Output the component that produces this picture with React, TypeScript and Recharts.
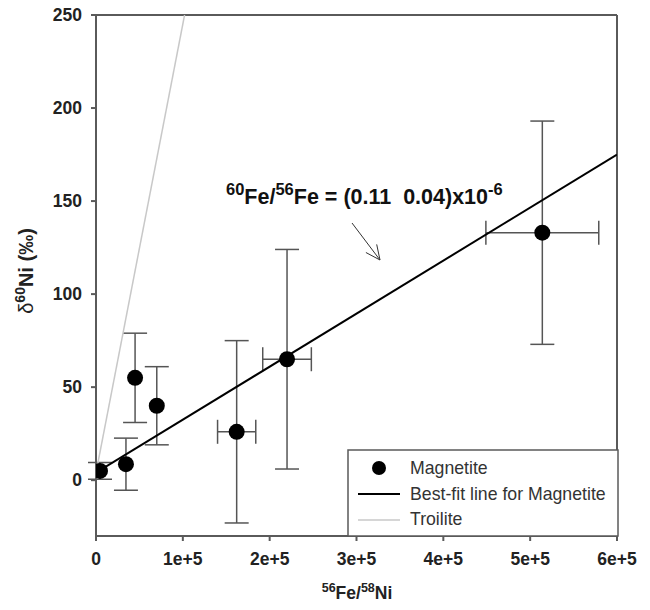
import React from "react";
import { ScatterChart, Scatter, XAxis, YAxis, ErrorBar, ReferenceLine } from "recharts";

// magnetite measurements
const magX = [4.6e3, 3.45e4, 4.5e4, 7.0e4, 1.62e5, 2.2e5, 5.14e5];
const magY = [5, 8.6, 55, 40, 26, 65, 133];
const magErrX = [0, 0, 0, 0, 2.2e4, 2.8e4, 6.5e4];
const magErrY = [4.5, 14, 24, 21, 49, 59, 60];

// best-fit line & troilite line (end points)
const fitX = [0, 6e5];
const fitY = [4, 175];
const troiliteX = [0, 1.02e5];
const troiliteY = [4, 250];

const xTicks = [0, 1e5, 2e5, 3e5, 4e5, 5e5, 6e5];
const yTicks = [0, 50, 100, 150, 200, 250];

const magnetite = magX.map((x, i) => ({ x, y: magY[i], ex: magErrX[i], ey: magErrY[i] }));
// only the points that actually carry a horizontal error
const magnetiteXErr = magnetite.filter((d) => d.ex > 0);
const bestFit = fitX.map((x, i) => ({ x, y: fitY[i] }));
const troilite = troiliteX.map((x, i) => ({ x, y: troiliteY[i] }));

const FONT = "'Liberation Sans', Arial, sans-serif";
const AXIS = "#5a5a5a";

const fmtX = (v: number) => (v === 0 ? "0" : `${v / 1e5}e+5`);

const Dot = (p: any) => <circle cx={p.cx} cy={p.cy} r={8} fill="#000" />;
const NoDot = () => <g />;

export default function App() {
  const tick = { fontSize: 17.5, fontWeight: "bold", fill: "#222", fontFamily: FONT };
  return (
    <div style={{ position: "absolute", left: 0, top: 0, width: 650, height: 610, background: "#fff" }}>
      <ScatterChart width={650} height={610} margin={{ top: 15, right: 33, bottom: 24, left: 0 }}>
        <XAxis
          type="number"
          dataKey="x"
          domain={[0, 6e5]}
          ticks={xTicks}
          tickFormatter={fmtX}
          tick={tick}
          tickSize={5}
          tickMargin={12}
          height={50}
          stroke={AXIS}
          strokeWidth={2}
          allowDataOverflow
        />
        <YAxis
          type="number"
          dataKey="y"
          domain={[-30, 250]}
          ticks={yTicks}
          tick={tick}
          tickSize={5}
          tickMargin={9}
          width={96}
          stroke={AXIS}
          strokeWidth={2}
          allowDataOverflow
        />
        <ReferenceLine y={250} stroke={AXIS} strokeWidth={2} />
        <ReferenceLine x={6e5} stroke={AXIS} strokeWidth={2} />
        <Scatter
          data={troilite}
          line={{ stroke: "#c8c8c8", strokeWidth: 1.5 }}
          shape={NoDot}
          isAnimationActive={false}
        />
        <Scatter
          data={bestFit}
          line={{ stroke: "#000", strokeWidth: 2 }}
          shape={NoDot}
          isAnimationActive={false}
        />
        <Scatter data={magnetiteXErr} shape={NoDot} isAnimationActive={false}>
          <ErrorBar dataKey="ex" direction="x" width={12} stroke="#555" strokeWidth={1.5} />
        </Scatter>
        <Scatter data={magnetite} shape={Dot} isAnimationActive={false}>
          <ErrorBar dataKey="ey" direction="y" width={12} stroke="#555" strokeWidth={1.5} />
        </Scatter>
      </ScatterChart>

      <svg
        width={650}
        height={610}
        style={{ position: "absolute", left: 0, top: 0, pointerEvents: "none", fontFamily: FONT }}
      >
        {/* annotation */}
        <text x={226} y={204} fontSize={21.5} fontWeight="bold" fill="#111" style={{ whiteSpace: "pre" }}>
          <tspan fontSize={16.5} dy={-9}>60</tspan>
          <tspan dy={9}>Fe/</tspan>
          <tspan fontSize={16.5} dy={-9}>56</tspan>
          <tspan dy={9}>Fe = (0.11  0.04)x10</tspan>
          <tspan fontSize={16.5} dy={-9}>-6</tspan>
        </text>
        <line x1={352} y1={223} x2={380} y2={260} stroke="#333" strokeWidth={1} />
        <polyline points="376.7,244.4 380,260 365.9,252.5" fill="none" stroke="#333" strokeWidth={1} />

        {/* axis titles */}
        <text transform="translate(33,271) rotate(-90)" textAnchor="middle" fontSize={20} fontWeight="bold" fill="#222">
          <tspan fontWeight="normal">δ</tspan>
          <tspan fontSize={14} dy={-8}>60</tspan>
          <tspan dy={8}>Ni (‰)</tspan>
        </text>
        <text x={357} y={599} textAnchor="middle" fontSize={17.5} fontWeight="bold" fill="#222">
          <tspan fontSize={12.5} dy={-7}>56</tspan>
          <tspan dy={7}>Fe/</tspan>
          <tspan fontSize={12.5} dy={-7}>58</tspan>
          <tspan dy={7}>Ni</tspan>
        </text>

        {/* legend */}
        <rect x={348} y={450} width={270} height={86} fill="#fff" stroke={AXIS} strokeWidth={1.5} />
        <circle cx={379} cy={468} r={7} fill="#000" />
        <text x={410} y={474} fontSize={17.7} fill="#333">Magnetite</text>
        <line x1={358} y1={494} x2={400} y2={494} stroke="#000" strokeWidth={2} />
        <text x={410} y={500} fontSize={17.7} fill="#333">Best-fit line for Magnetite</text>
        <line x1={358} y1={520} x2={400} y2={520} stroke="#c8c8c8" strokeWidth={1.5} />
        <text x={410} y={525} fontSize={17.7} fill="#333">Troilite</text>
      </svg>
    </div>
  );
}
